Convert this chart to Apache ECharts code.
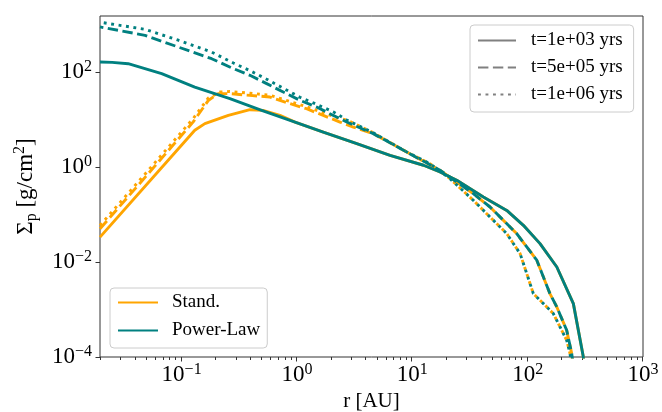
<!DOCTYPE html>
<html>
<head>
<meta charset="utf-8">
<script src="https://cdn.jsdelivr.net/npm/echarts@6/dist/echarts.min.js"></script>
<style>html,body{margin:0;padding:0;background:#fff}#c{width:662px;height:412px}</style>
</head>
<body>
<div id="c"></div>
<script>
// ---- data (r in AU, Sigma_p in g/cm^2) ----
const plSolidR = [0.0196, 0.025, 0.0344, 0.0671, 0.130, 0.262, 0.494, 0.962, 1.69, 3.30, 6.41, 12.5, 17.4, 24.3, 41.3, 65.9, 91.8, 128, 179, 249, 304, 320];
const plSolidS = [163, 160, 150, 92.5, 48.3, 27.5, 15.6, 8.85, 5.46, 3.11, 1.76, 1.09, 0.785, 0.525, 0.233, 0.122, 0.0593, 0.0244, 0.00785, 0.00133, 1.0e-4, 1e-5];

const plDashR = [0.0196, 0.0481, 0.0935, 0.182, 0.281, 0.391, 0.546, 0.760, 1.06, 1.48, 2.07, 2.70, 4.59, 8.95, 17.4, 33.8, 47.2, 80.4, 120, 156, 179, 218, 241, 260];
const plDashS = [891, 593, 336, 191, 118, 85.3, 57.0, 37.9, 25.4, 18.3, 12.2, 8.86, 5.05, 2.07, 0.853, 0.275, 0.144, 0.0396, 0.0109, 0.00216, 0.00113, 3.65e-4, 1.18e-4, 3e-5];

const plDotR = [0.0196, 0.0481, 0.0935, 0.182, 0.281, 0.391, 0.546, 0.760, 1.06, 1.48, 2.07, 2.70, 4.59, 8.95, 14.2, 21.2, 33.8, 47.2, 65.9, 86.0, 98.2, 112, 137, 167, 191, 218, 233, 250];
const plDotS = [1122, 794, 468, 263, 155, 107, 70.8, 45.7, 29.5, 20.9, 14.5, 9.77, 5.25, 2.07, 1.18, 0.570, 0.199, 0.0886, 0.0396, 0.0150, 0.0057, 0.00216, 0.00133, 8.2e-4, 4.28e-4, 2.25e-4, 1.18e-4, 3e-5];

const stSolidR = [0.0196, 0.130, 0.159, 0.254, 0.391, 0.507, 0.713, 0.962, 1.69, 3.30, 6.41, 12.5, 17.4, 24.3, 41.3, 65.9, 91.8, 128, 179, 249, 304, 320];
const stSolidS = [0.0334, 5.93, 8.20, 12.2, 16.1, 15.6, 12.2, 8.85, 5.46, 3.11, 1.76, 1.09, 0.785, 0.525, 0.233, 0.122, 0.0593, 0.0244, 0.00785, 0.00133, 1.0e-4, 1e-5];

const stDashR = [0.0196, 0.0501, 0.126, 0.170, 0.207, 0.262, 0.391, 0.583, 0.869, 1.21, 1.69, 2.36, 3.08, 4.59, 8.95, 17.4, 33.8, 47.2, 80.4, 120, 156, 179, 218, 241, 260];
const stDashS = [0.0501, 0.676, 8.91, 25.1, 35.1, 35.1, 32.3, 29.8, 21.6, 16.9, 12.2, 8.85, 6.95, 5.05, 2.07, 0.853, 0.275, 0.144, 0.0396, 0.0109, 0.00216, 0.00113, 3.65e-4, 1.18e-4, 3e-5];

const stDotR = [0.0196, 0.0501, 0.126, 0.170, 0.215, 0.262, 0.391, 0.583, 0.869, 1.21, 1.69, 2.36, 2.70, 4.59, 8.95, 14.2, 21.2, 33.8, 47.2, 65.9, 86.0, 98.2, 112, 137, 167, 191, 218, 233, 250];
const stDotS = [0.0589, 0.794, 10.5, 28.2, 38.0, 38.9, 35.9, 32.4, 24.0, 18.6, 13.8, 10.5, 9.77, 5.25, 2.07, 1.18, 0.570, 0.199, 0.0886, 0.0396, 0.0150, 0.0057, 0.00216, 0.00133, 8.2e-4, 4.28e-4, 2.25e-4, 1.18e-4, 3e-5];

const modelNames = ['Stand.', 'Power-Law'];
const timeNames = ['t=1e+03 yrs', 't=5e+05 yrs', 't=1e+06 yrs'];

const xMin = 0.0196, xMax = 1000, yMin = 1e-4, yMax = 1514;
const xMajorTicks = [0.1, 1, 10, 100, 1000];
const xMinorTicks = [0.02,0.03,0.04,0.05,0.06,0.07,0.08,0.09, 0.2,0.3,0.4,0.5,0.6,0.7,0.8,0.9, 2,3,4,5,6,7,8,9, 20,30,40,50,60,70,80,90, 200,300,400,500,600,700,800,900];
const yMajorTicks = [1e-4, 1e-2, 1, 100];

// ---- styling ----
const FONT = "'Liberation Serif', 'Times New Roman', serif";
const ORANGE = '#FFA500', TEAL = '#008080', GRAY = '#808080', AXIS = '#333';
const LW = 2.9;
const DASH = [10.4, 4.5], DOT = [2.9, 4.6];

function pairs(rs, ss) { return rs.map((r, i) => [r, ss[i]]); }

function powLabel(v, evenOnly) {
  const l = Math.log10(v);
  const e = Math.round(l);
  if (Math.abs(l - e) > 1e-6) return '';
  if (evenOnly && e % 2 !== 0) return '';
  return '{b|10}{s|' + (e < 0 ? '\u2212' + (-e) : String(e)) + '}';
}
const tickRich = {
  b: { fontFamily: FONT, fontSize: 23, lineHeight: 26, color: '#000' },
  s: { fontFamily: FONT, fontSize: 16, lineHeight: 14, verticalAlign: 'top', color: '#000' }
};

function lineSeries(name, rs, ss, color, dash, offset) {
  return {
    type: 'line', name: name, data: pairs(rs, ss),
    symbol: 'none', showSymbol: false, clip: true, silent: true,
    lineStyle: { color: color, width: LW, type: dash || 'solid', dashOffset: offset || 0, join: 'round' },
    itemStyle: { color: color }
  };
}

const chart = echarts.init(document.getElementById('c'), null, { renderer: 'canvas' });
chart.setOption({
  animation: false,
  backgroundColor: '#fff',
  grid: { left: 100, right: 19, top: 16, bottom: 55, show: true, borderColor: AXIS, borderWidth: 1,
          containLabel: false, outerBoundsMode: 'none' },
  xAxis: {
    type: 'log', logBase: 10, min: xMin, max: xMax,
    axisLine: { show: false }, axisTick: { show: false }, splitLine: { show: false },
    axisLabel: { margin: 5, formatter: v => powLabel(v, false), rich: tickRich, showMinLabel: false },
    name: 'r [AU]', nameLocation: 'middle', nameGap: 33,
    nameTextStyle: { fontFamily: FONT, fontSize: 21, color: '#000' }
  },
  yAxis: {
    type: 'log', logBase: 10, min: yMin, max: yMax,
    axisLine: { show: false }, axisTick: { show: false }, splitLine: { show: false },
    axisLabel: { margin: 8, formatter: v => powLabel(v, true), rich: tickRich, showMaxLabel: false },
    name: '{m|\u03A3}{sub|p}{m| [g/cm}{sup|2}{m|]}', nameLocation: 'middle', nameGap: 60, nameRotate: 90,
    nameTextStyle: {
      rich: {
        m: { fontFamily: FONT, fontSize: 23, lineHeight: 28, color: '#000' },
        sub: { fontFamily: FONT, fontSize: 16, lineHeight: 12, verticalAlign: 'bottom', color: '#000' },
        sup: { fontFamily: FONT, fontSize: 16, lineHeight: 14, verticalAlign: 'top', color: '#000' }
      }
    }
  },
  legend: [
    {
      data: timeNames, orient: 'vertical', left: 470, top: 25,
      itemWidth: 38, itemHeight: 14, itemGap: 8, padding: [6, 11, 8, 7],
      borderColor: '#ccc', borderWidth: 1, borderRadius: 4, backgroundColor: 'rgba(255,255,255,0.85)',
      selectedMode: false, itemStyle: { opacity: 0 },
      textStyle: { fontFamily: FONT, fontSize: 19, lineHeight: 19, color: '#000', padding: [0, 0, 0, 10] }
    },
    {
      data: modelNames, orient: 'vertical', left: 110, top: 288,
      itemWidth: 40, itemHeight: 14, itemGap: 9, padding: [5, 7, 8, 7],
      borderColor: '#ccc', borderWidth: 1, borderRadius: 4, backgroundColor: 'rgba(255,255,255,0.85)',
      selectedMode: false, itemStyle: { opacity: 0 },
      textStyle: { fontFamily: FONT, fontSize: 19, lineHeight: 19, color: '#000', padding: [0, 0, 0, 9] }
    }
  ],
  series: [
    lineSeries('Stand.', stSolidR, stSolidS, ORANGE, 'solid'),
    lineSeries('Stand. 5e5', stDashR, stDashS, ORANGE, DASH),
    lineSeries('Stand. 1e6', stDotR, stDotS, ORANGE, DOT),
    lineSeries('Power-Law', plSolidR, plSolidS, TEAL, 'solid'),
    lineSeries('Power-Law 5e5', plDashR, plDashS, TEAL, DASH, 7),
    lineSeries('Power-Law 1e6', plDotR, plDotS, TEAL, DOT, 3.7),
    lineSeries(timeNames[0], [], [], GRAY, 'solid'),
    lineSeries(timeNames[1], [], [], GRAY, DASH),
    lineSeries(timeNames[2], [], [], GRAY, DOT)
  ]
});

// ---- outward axis ticks, positioned through the chart's own scales ----
const tickEls = [];
function tick(x1, y1, x2, y2) {
  tickEls.push({ type: 'line', silent: true, shape: { x1: x1, y1: y1, x2: x2, y2: y2 }, style: { stroke: AXIS, lineWidth: 1 } });
}
xMajorTicks.forEach(v => {
  const p = chart.convertToPixel({ gridIndex: 0 }, [v, yMin]);
  const x = Math.round(p[0]) - 0.5;
  tick(x, p[1], x, p[1] + 4.5);
});
xMinorTicks.forEach(v => {
  const p = chart.convertToPixel({ gridIndex: 0 }, [v, yMin]);
  const x = Math.round(p[0]) - 0.5;
  tick(x, p[1], x, p[1] + 3);
});
yMajorTicks.forEach(v => {
  const p = chart.convertToPixel({ gridIndex: 0 }, [xMin, v]);
  const y = Math.round(p[1]) + 0.5;
  tick(p[0] - 4.5, y, p[0], y);
});
chart.setOption({ graphic: tickEls });
</script>
</body>
</html>
